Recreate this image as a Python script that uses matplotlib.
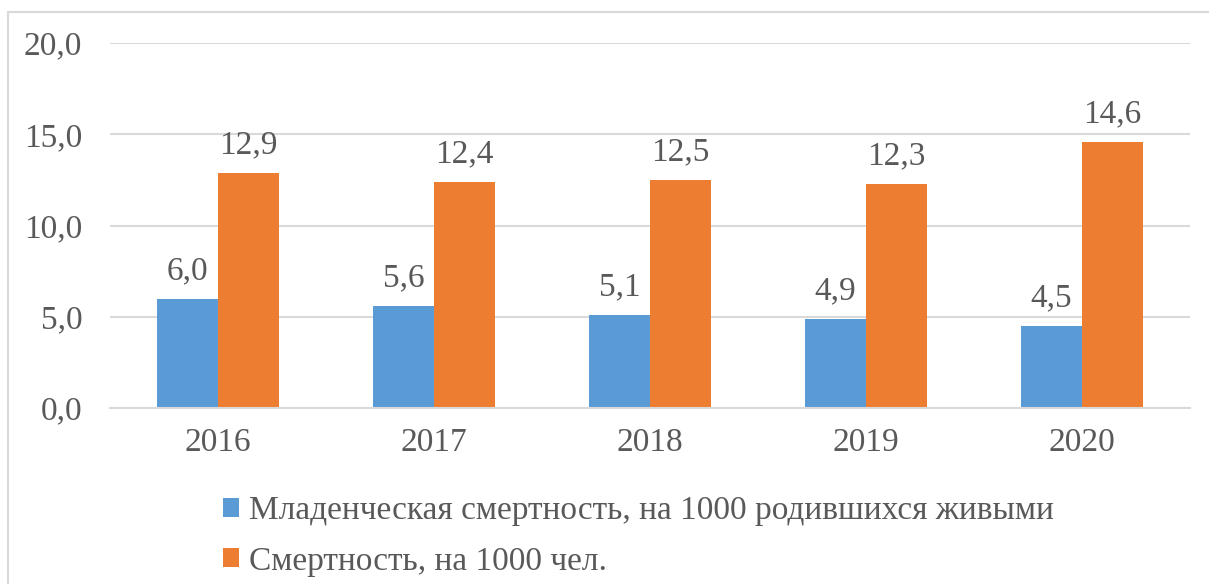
import numpy as np
import matplotlib.pyplot as plt
from matplotlib.patches import Rectangle

years = ['2016', '2017', '2018', '2019', '2020']
infant = [6.0, 5.6, 5.1, 4.9, 4.5]
mortality = [12.9, 12.4, 12.5, 12.3, 14.6]
labels = ['Младенческая смертность, на 1000 родившихся живыми',
          'Смертность, на 1000 чел.']

plt.rcParams['font.family'] = ['Liberation Serif', 'DejaVu Serif']
txt = '#595959'
blue = '#5B9BD5'
orange = '#ED7D31'
fs = 24

fig = plt.figure(figsize=(12.09, 5.84), dpi=100)
fig.patches.append(Rectangle((8 / 1209, -0.1), 1.2, 1 - 12 / 584 + 0.1,
                             transform=fig.transFigure, fill=False,
                             edgecolor='#D9D9D9', linewidth=1.5))
ax = fig.add_axes([110 / 1209, 1 - 408 / 584, 1080 / 1209, 365 / 584])

x = np.arange(len(years))
w = 0.283
b1 = ax.bar(x - w / 2, infant, w, color=blue, label=labels[0])
b2 = ax.bar(x + w / 2, mortality, w, color=orange, label=labels[1])

for bars, vals in ((b1, infant), (b2, mortality)):
    for r, v in zip(bars, vals):
        ax.annotate(f'{v:.1f}'.replace('.', ','),
                    (r.get_x() + r.get_width() / 2, v),
                    xytext=(0, 9), textcoords='offset points',
                    ha='center', va='bottom', fontsize=fs, color=txt)

ax.set_xlim(-0.5, 4.5)
ax.set_ylim(0, 20)
ax.set_yticks(np.arange(0, 21, 5))
ax.set_yticklabels([f'{v:.1f}'.replace('.', ',') for v in np.arange(0, 21, 5)])
ax.set_xticks(x)
ax.set_xticklabels(years)
ax.tick_params(length=0, labelsize=fs, labelcolor=txt)
ax.tick_params(axis='y', pad=20)
ax.tick_params(axis='x', pad=14)
ax.grid(axis='y', color='#D9D9D9', linewidth=1.5)
ax.set_axisbelow(True)
for s in ('top', 'right', 'left'):
    ax.spines[s].set_visible(False)
ax.spines['bottom'].set_color('#D9D9D9')
ax.spines['bottom'].set_linewidth(1.5)

fig.legend(loc='upper left', bbox_to_anchor=(206 / 1209, 1 - 479 / 584),
           frameon=False, fontsize=fs, labelcolor=txt,
           handlelength=0.5, handleheight=0.5, handletextpad=0.3,
           labelspacing=0.6, borderpad=0)

fig.savefig('out.png', dpi=100)
